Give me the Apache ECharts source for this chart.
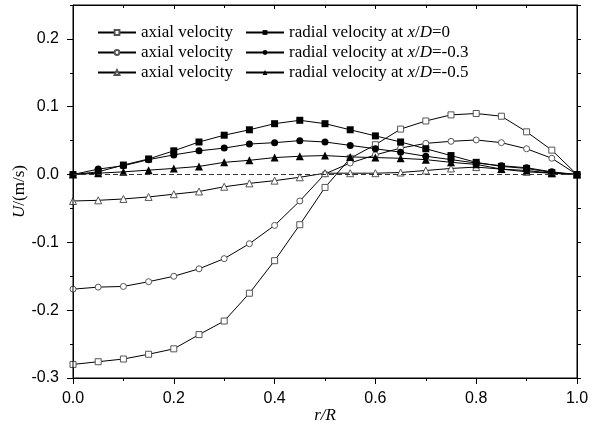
<!DOCTYPE html>
<html>
<head>
<meta charset="utf-8">
<script src="https://cdn.jsdelivr.net/npm/echarts@6/dist/echarts.min.js"></script>
<style>html,body{margin:0;padding:0;background:#fff}#c{width:592px;height:427px}</style>
</head>
<body>
<div id="c"></div>
<script>
const rR = [0,0.05,0.1,0.15,0.2,0.25,0.3,0.35,0.4,0.45,0.5,0.55,0.6,0.65,0.7,0.75,0.8,0.85,0.9,0.95,1.0];
const axial0  = [-0.280,-0.276,-0.272,-0.265,-0.257,-0.236,-0.216,-0.175,-0.127,-0.074,-0.019,0.024,0.044,0.067,0.079,0.088,0.090,0.086,0.063,0.036,0];
const axial3  = [-0.169,-0.166,-0.165,-0.158,-0.150,-0.139,-0.124,-0.102,-0.075,-0.039,0.001,0.017,0.029,0.039,0.046,0.049,0.051,0.047,0.038,0.024,0];
const axial5  = [-0.039,-0.038,-0.036,-0.033,-0.029,-0.025,-0.018,-0.013,-0.009,-0.004,0.002,0.002,0.002,0.003,0.006,0.009,0.011,0.008,0.004,0.002,0];
const radial0 = [0,0.004,0.014,0.023,0.035,0.048,0.058,0.066,0.075,0.080,0.075,0.066,0.057,0.048,0.038,0.028,0.018,0.012,0.009,0.003,0];
const radial3 = [0,0.008,0.013,0.022,0.029,0.035,0.039,0.045,0.047,0.050,0.048,0.043,0.038,0.033,0.027,0.022,0.017,0.013,0.010,0.004,0];
const radial5 = [0,0.002,0.004,0.0065,0.009,0.012,0.018,0.021,0.025,0.027,0.028,0.026,0.025,0.024,0.022,0.018,0.015,0.008,0.006,0.002,0];
const yTicks = [-0.3,-0.2,-0.1,0,0.1,0.2];
const yMinorTicks = [-0.3,-0.25,-0.2,-0.15,-0.1,-0.05,0,0.05,0.1,0.15,0.2,0.25];
const legendLabels = {
  ax0: 'axial velocity', ax3: 'axial velocity', ax5: 'axial velocity',
  rad0: 'radial velocity at {i|x}/{i|D}=0', rad3: 'radial velocity at {i|x}/{i|D}=-0.3', rad5: 'radial velocity at {i|x}/{i|D}=-0.5'
};

const pair = (ys) => rR.map((x, i) => [x, ys[i]]);
const serif = 'Liberation Serif';
const sans = 'Liberation Sans';

function openSeries(name, ys, symbol, size) {
  return {
    name, type: 'line', data: pair(ys), symbol, symbolSize: size,
    lineStyle: { color: '#000', width: 1 },
    itemStyle: { color: '#fff', borderColor: '#555', borderWidth: 1 },
    emphasis: { disabled: true }, animation: false, z: 3
  };
}
function filledSeries(name, ys, symbol, size) {
  return {
    name, type: 'line', data: pair(ys), symbol, symbolSize: size,
    lineStyle: { color: '#000', width: 1 },
    itemStyle: { color: '#000', borderColor: '#000', borderWidth: 0 },
    emphasis: { disabled: true }, animation: false, z: 4
  };
}

const series = [
  openSeries('ax0', axial0, 'rect', 6),
  openSeries('ax3', axial3, 'circle', 6),
  openSeries('ax5', axial5, 'triangle', 7),
  filledSeries('rad0', radial0, 'rect', 7),
  filledSeries('rad3', radial3, 'circle', 7),
  filledSeries('rad5', radial5, 'triangle', 8)
];
series[0].markLine = {
  silent: true, symbol: 'none', label: { show: false },
  lineStyle: { color: '#333', type: [5, 3], width: 1 },
  data: [{ yAxis: 0 }], animation: false
};

const legendCommon = {
  orient: 'vertical', itemWidth: 38, itemHeight: 6, itemGap: 3,
  textStyle: {
    fontFamily: serif, fontSize: 17, color: '#000', lineHeight: 17,
    rich: { i: { fontFamily: serif, fontSize: 17, fontStyle: 'italic', color: '#000' } }
  },
  formatter: (n) => legendLabels[n],
  selectedMode: false
};

const chart = echarts.init(document.getElementById('c'), null, { renderer: 'canvas' });
chart.setOption({
  animation: false,
  grid: { left: 73, right: 15, top: 5, bottom: 49, containLabel: false, outerBoundsMode: 'none',
          show: true, borderColor: '#000', borderWidth: 1, backgroundColor: 'rgba(0,0,0,0)', z: 10 },
  legend: [
    Object.assign({}, legendCommon, { left: 92, top: 19, data: ['ax0', 'ax3', 'ax5'] }),
    Object.assign({}, legendCommon, { left: 240, top: 19, data: ['rad0', 'rad3', 'rad5'] })
  ],
  xAxis: [
    {
      type: 'value', min: 0, max: 1, interval: 0.2, position: 'bottom',
      name: 'r/R', nameLocation: 'middle', nameGap: 29, nameMoveOverlap: false,
      nameTextStyle: { fontFamily: serif, fontStyle: 'italic', fontSize: 17, color: '#000' },
      axisLine: { show: true, onZero: false, lineStyle: { color: '#000', width: 1 } },
      axisTick: { show: true, inside: false, length: 6, lineStyle: { color: '#000' } },
      minorTick: { show: true, splitNumber: 2, length: 3, lineStyle: { color: '#000' } },
      axisLabel: { fontFamily: sans, fontSize: 16, color: '#000', margin: 13, formatter: (v) => v.toFixed(1) },
      splitLine: { show: false }
    },
    {
      type: 'value', min: 0, max: 1, interval: 0.2, position: 'top', z: 10,
      axisLine: { show: true, onZero: false, lineStyle: { color: '#000', width: 1 } },
      axisTick: { show: true, inside: true, length: 4, lineStyle: { color: '#000' } },
      minorTick: { show: true, splitNumber: 2, length: 3, lineStyle: { color: '#000' } },
      axisLabel: { show: true, color: 'rgba(0,0,0,0)', fontSize: 1 }, splitLine: { show: false }
    }
  ],
  yAxis: [
    {
      type: 'value', min: -0.3, max: 0.25, position: 'left',
      name: '{i|U}/(m/s)', nameLocation: 'middle', nameGap: 45, nameMoveOverlap: false,
      nameTextStyle: {
        fontFamily: serif, fontSize: 17, color: '#000',
        rich: { i: { fontFamily: serif, fontStyle: 'italic', fontSize: 17, color: '#000' } }
      },
      axisLine: { show: true, onZero: false, lineStyle: { color: '#000', width: 1 } },
      axisTick: { show: true, inside: false, length: 6, customValues: yTicks, lineStyle: { color: '#000' } },
      axisLabel: { fontFamily: sans, fontSize: 16, color: '#000', margin: 14, customValues: yTicks, formatter: (v) => v.toFixed(1) },
      splitLine: { show: false }
    },
    {
      type: 'value', min: -0.3, max: 0.25, position: 'left',
      axisLine: { show: false, onZero: false },
      axisTick: { show: true, inside: false, length: 3, customValues: yMinorTicks, lineStyle: { color: '#000' } },
      axisLabel: { show: false }, splitLine: { show: false }
    },
    {
      type: 'value', min: -0.3, max: 0.25, position: 'right',
      axisLine: { show: true, onZero: false, lineStyle: { color: '#000', width: 1 } },
      axisTick: { show: true, inside: false, length: 4, customValues: yMinorTicks, lineStyle: { color: '#000' } },
      axisLabel: { show: false }, splitLine: { show: false }
    }
  ],
  series
});
</script>
</body>
</html>
